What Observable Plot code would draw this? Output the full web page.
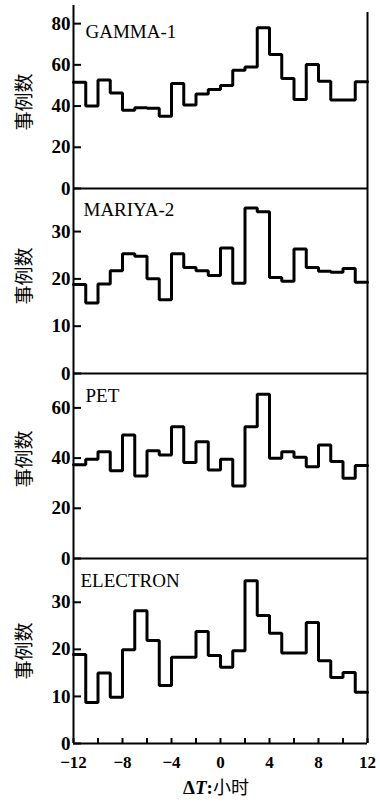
<!DOCTYPE html>
<html>
<head>
<meta charset="utf-8">
<script src="https://cdn.jsdelivr.net/npm/d3@7"></script>
<script src="https://cdn.jsdelivr.net/npm/@observablehq/plot@0.6"></script>
<style>
  body { margin: 0; background: #fff; }
  #wrap { position: relative; width: 380px; height: 804px; overflow: hidden; background: #fff; }
  #wrap svg { position: absolute; left: 0; }
  #xlab { position: absolute; left: 216px; top: 777px; transform: translateX(-50%); white-space: nowrap; line-height: 18px;
          font-family: "Liberation Serif", "Noto Sans CJK SC", serif; font-size: 19px; font-weight: bold; color: #000; }
  #xlab .cjk { font-family: "Noto Sans CJK SC", sans-serif; font-size: 18px; font-weight: normal; }
</style>
</head>
<body>
<div id="wrap"></div>
<script>
// Bin edges (hours), 1-hour bins from -12 to 12
const edges = [-12,-11,-10,-9,-8,-7,-6,-5,-4,-3,-2,-1,0,1,2,3,4,5,6,7,8,9,10,11,12];

// Event counts per bin
const gamma1   = [51.5,40,52.6,46.4,38,39.2,39,35,51,40.5,45.8,48,50,57.4,59,78,65,53.4,43.2,60.2,52,43,43,51.8];
const mariya2  = [18.8,14.9,18.9,21.7,25.3,24.8,20.0,15.6,25.3,22.4,21.7,20.7,26.5,19.1,35.0,34.2,20.3,19.5,26.3,22.4,21.6,21.4,22.2,19.3];
const pet      = [37.3,39.5,42.5,35,49.2,32.9,42.9,41.2,52.5,38.2,46.5,35.3,39.5,28.9,52.5,65.4,39.9,42.5,40.3,36.6,45.2,38.6,32,37];
const electron = [18.9,8.7,15.0,9.8,19.9,28.2,21.9,12.3,18.3,18.3,23.8,18.7,16.2,19.7,34.6,27.2,23.4,19.2,19.2,25.7,17.6,14.0,15.1,10.9];

const panelNames = ["GAMMA-1", "MARIYA-2", "PET", "ELECTRON"];
const yTicks1 = [0,20,40,60,80];
const yTicks2 = [0,10,20,30];
const yTicks3 = [0,20,40,60];
const yTicks4 = [0,10,20,30];
const xTicks = [-12,-10,-8,-6,-4,-2,0,2,4,6,8,10,12];
const xLabelTicks = [-12,-8,-4,0,4,8,12];
const xTickLabels = ["−12","−8","−4","0","4","8","12"];
const yLabel = "事例数";

const serif = "'Liberation Serif', 'Times New Roman', serif";
const cjk = "'Noto Sans CJK SC', sans-serif";
const wrap = document.getElementById("wrap");

function panel(cfg) {
  const v = cfg.values;
  const pts = edges.map((e, i) => ({x: e, y: v[Math.min(i, v.length - 1)]}));
  const marks = [
    Plot.ruleX([-12], {strokeWidth: 2}),
    Plot.ruleX([12], {strokeWidth: 2, insetTop: cfg.rightInset || 0}),
    Plot.ruleY([0], {strokeWidth: 2}),
    Plot.axisY({ticks: cfg.yTicks, label: null, tickSize: -8, tickPadding: 11, strokeWidth: 2,
      fontSize: 19, fontWeight: "bold", fontFamily: serif, fill: "#000", tickFormat: d => String(d)}),
    Plot.line(pts, {x: "x", y: "y", curve: "step-after", stroke: "#000", strokeWidth: 3, strokeLinejoin: "miter"}),
    Plot.text([cfg.name], {frameAnchor: "top-left", dx: cfg.titleDx, dy: cfg.titleDy, textAnchor: "start",
      lineAnchor: "middle", fontSize: 19, fontFamily: serif, fill: "#000"}),
    Plot.text([yLabel], {frameAnchor: "left", dx: -49, dy: cfg.labelDy, rotate: -90, textAnchor: "middle",
      lineAnchor: "middle", fontSize: 19, fontFamily: cjk, fill: "#000"})
  ];
  if (cfg.bottom) {
    marks.push(
      Plot.axisX({ticks: xTicks, label: null, tickSize: -5, strokeWidth: 2, tickFormat: () => ""}),
      Plot.axisX({ticks: xLabelTicks, label: null, tickSize: 0, tickPadding: 12, fontSize: 17, fontWeight: "bold",
        fontFamily: serif, fill: "#000", tickFormat: d => xTickLabels[xLabelTicks.indexOf(d)]})
    );
  }
  const svg = Plot.plot({
    width: 380,
    height: cfg.height,
    marginTop: cfg.mt,
    marginBottom: cfg.mb,
    marginLeft: 73,
    marginRight: 13,
    x: {domain: [-12, 12], axis: null},
    y: {domain: [0, cfg.yMax], axis: null},
    style: {background: "transparent", fontFamily: serif, color: "#000", overflow: "visible"},
    marks
  });
  svg.style.top = cfg.top + "px";
  wrap.append(svg);
}

panel({values: gamma1,   name: panelNames[0], yMax: 88.8, yTicks: yTicks1, top: 0,   height: 191, mt: 5, mb: 3, titleDx: 12, titleDy: 26, labelDy: 5, rightInset: 7});
panel({values: mariya2,  name: panelNames[1], yMax: 39.1, yTicks: yTicks2, top: 185, height: 191, mt: 3, mb: 3, titleDx: 10, titleDy: 21, labelDy: -5});
panel({values: pet,      name: panelNames[2], yMax: 73.7, yTicks: yTicks3, top: 370, height: 191, mt: 3, mb: 3, titleDx: 12, titleDy: 22, labelDy: -7});
panel({values: electron, name: panelNames[3], yMax: 39.3, yTicks: yTicks4, top: 555, height: 220, mt: 3, mb: 32, titleDx: 7, titleDy: 22, labelDy: 0, bottom: true});

const xl = document.createElement("div");
xl.id = "xlab";
xl.innerHTML = 'Δ<i>T</i>:<span class="cjk">小时</span>';
wrap.append(xl);
</script>
</body>
</html>
